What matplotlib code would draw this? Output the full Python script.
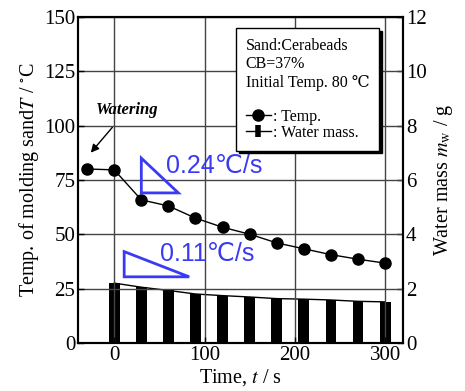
import matplotlib
matplotlib.use('Agg')
import matplotlib.pyplot as plt
from matplotlib.lines import Line2D
from matplotlib.patches import Polygon

plt.rcParams['font.family'] = ['Liberation Serif', 'DejaVu Serif']
plt.rcParams['mathtext.fontset'] = 'stix'

# temperature of molding sand
temp_time = [-30, 0, 30, 60, 90, 120, 150, 180, 210, 240, 270, 300]
temp_vals = [80.0, 79.6, 65.8, 63.0, 57.4, 53.2, 50.0, 46.0, 43.3, 40.6, 38.5, 36.7]

# water mass (right axis)
water_time = [0, 30, 60, 90, 120, 150, 180, 210, 240, 270, 300]
water_vals = [2.20, 2.05, 1.93, 1.80, 1.74, 1.69, 1.63, 1.61, 1.58, 1.53, 1.51]

fig = plt.figure(figsize=(4.65, 3.91), dpi=100)
ax1 = fig.add_subplot(111)
ax2 = ax1.twinx()

ax2.bar(water_time, water_vals, width=12, color='black', zorder=2)
ax2.plot(water_time, water_vals, color='black', lw=1, zorder=3)
ax2.set_ylim(0, 12)
ax2.set_yticks(range(0, 13, 2))

ax1.set_zorder(ax2.get_zorder() + 1)
ax1.patch.set_visible(False)
ax1.plot(temp_time, temp_vals, color='black', lw=1, marker='o', ms=8, zorder=4)
ax1.set_xlim(-40, 320)
ax1.set_ylim(0, 150)
ax1.set_xticks([0, 100, 200, 300])
ax1.set_yticks(range(0, 151, 25))
ax1.grid(True, color='#444444', lw=1)

for ax in (ax1, ax2):
    ax.tick_params(labelsize=15, direction='in', length=4, width=1, pad=2)
    for s in ax.spines.values():
        s.set_linewidth(1.5)

ax1.set_xlabel('Time, $t$ / s', fontsize=14.5, labelpad=2)
ax1.set_ylabel('Temp. of molding sand$T$ / $^{\\circ}$C', fontsize=14.5, labelpad=2)
ax2.set_ylabel('Water mass $m_{\\mathrm{w}}$ / g', fontsize=14.5, labelpad=4)

# slope triangles
blue = '#3a3af5'
ax1.add_patch(Polygon([(30, 85), (30, 69), (71, 69)], closed=True, fill=False,
                      edgecolor=blue, lw=2, zorder=5))
ax1.add_patch(Polygon([(11, 42), (11, 30.4), (83, 30.4)], closed=True, fill=False,
                      edgecolor=blue, lw=2, zorder=5))
ax1.text(57, 78, '0.24℃/s', color=blue, fontsize=18,
         family=['Liberation Sans', 'DejaVu Sans'], zorder=5)
ax1.text(51, 37.5, '0.11℃/s', color=blue, fontsize=18,
         family=['Liberation Sans', 'DejaVu Sans'], zorder=5)

ax1.annotate('Watering', xy=(-26, 87.5), xytext=(14, 107), ha='center', va='center',
             fontsize=12, fontweight='bold', fontstyle='italic',
             arrowprops=dict(arrowstyle='-|>', color='black', lw=1, shrinkA=6, shrinkB=0))

handles = [Line2D([], [], color='black', lw=1, marker='o', ms=8),
           Line2D([], [], color='black', lw=1, marker='|', ms=9, mew=4)]
leg = ax1.legend(handles, [': Temp.', ': Water mass.'],
                 title='Sand:Cerabeads\nCB=37%\nInitial Temp. 80 ℃\n',
                 loc='upper right', bbox_to_anchor=(0.925, 0.965), borderaxespad=0,
                 fontsize=11.5, title_fontsize=11.5, frameon=True, fancybox=False,
                 shadow={'color': 'black', 'alpha': 1}, edgecolor='black',
                 framealpha=1, handlelength=1.6, handletextpad=0.1,
                 labelspacing=0.0, borderpad=0.6, alignment='left')
leg.get_frame().set_linewidth(1)
leg.set_zorder(10)

plt.subplots_adjust(left=0.168, right=0.867, top=0.957, bottom=0.123)
plt.savefig('out.png', dpi=100)
